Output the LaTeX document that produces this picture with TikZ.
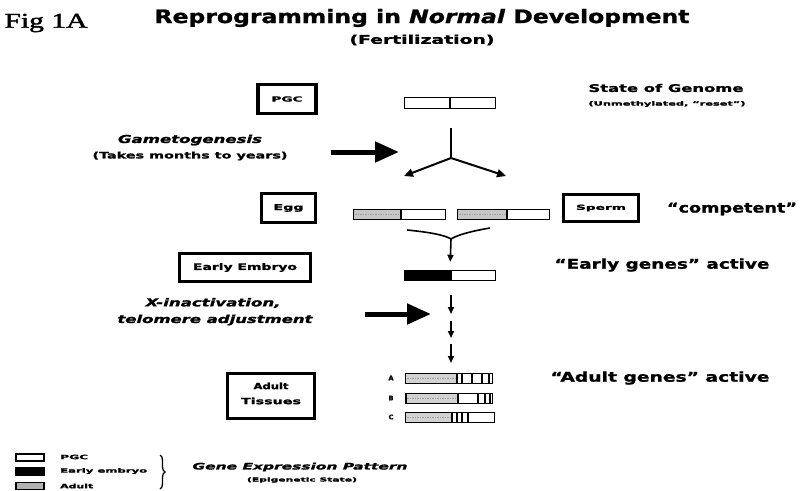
\documentclass[tikz,border=0pt]{standalone}
\usepackage{fontspec}
\setmainfont{DejaVu Sans}[ItalicFont={DejaVu Sans Oblique},BoldFont={DejaVu Sans Bold},BoldItalicFont={DejaVu Sans Bold Oblique},BoldFeatures={FakeBold=1.2},BoldItalicFeatures={FakeBold=1.2}]
\newfontfamily\figfont{Liberation Serif}[FakeBold=1.6]
\usepackage{graphicx}
\usetikzlibrary{arrows.meta,decorations.pathreplacing}
\newlength\fitlen
\newcommand\fitx[2]{\settowidth{\fitlen}{#2}\scalebox{\fpeval{#1/\fitlen}}[1]{#2}}
\newcommand\fs[1]{\fontsize{#1}{#1}\selectfont\bfseries}
\tikzset{
  txt/.style={inner sep=0pt, anchor=center},
  lbox/.style={draw, line width=3.5pt, inner sep=0pt},
  gbar/.style={draw, line width=1.4pt, inner sep=0pt, minimum height=10pt},
  swatch/.style={draw, line width=1.3pt, inner sep=0pt, minimum width=28pt, minimum height=7pt},
  bigarrow/.style={line width=5pt, -{Triangle[length=24pt,width=20pt]}},
  smallarrow/.style={line width=1.6pt, -{Triangle[length=7pt,width=6pt]}},
  forkarrow/.style={line width=2pt, -{Triangle[length=9pt,width=8pt]}},
  graypart/.style={fill=gray!45},
  texture/.style={gray!75, line width=0.8pt, dash pattern=on 1.5pt off 1pt}
}
\begin{document}
\begin{tikzpicture}[x=1pt,y=-1pt]
\useasboundingbox (0,0) rectangle (803,490);
\fill[white] (0,0) rectangle (803,490);

% ---------- headings ----------
\node[txt] (fig) at (46,23) {\fitx{83}{\figfont\fontsize{21}{21}\selectfont Fig 1A}};
\node[txt] (title) at (422,18) {\fitx{535}{\fs{18.5}Reprogramming in \textit{Normal} Development}};
\node[txt] (fert) at (422,40) {\fitx{145}{\fs{12}(Fertilization)}};

% ---------- genome state heading ----------
\node[txt] (state) at (666,88) {\fitx{155}{\fs{10.5}State of Genome}};
\node[txt] (unmeth) at (667,104) {\fitx{157}{\fs{6}(Unmethylated, “reset”)}};

% ---------- left boxes ----------
\node[lbox, minimum width=58pt, minimum height=29pt] (pgc) at (287,99) {\fitx{31}{\fs{7}PGC}};
\node[lbox, minimum width=54pt, minimum height=29pt] (egg) at (288.5,208) {\fitx{30}{\fs{8}Egg}};
\node[lbox, minimum width=75pt, minimum height=27pt] (sperm) at (601,208) {\fitx{50}{\fs{7}Sperm}};
\node[lbox, minimum width=131pt, minimum height=28pt] (early) at (245,267.5) {\fitx{104}{\fs{9}Early Embryo}};
\node[lbox, minimum width=87pt, minimum height=45pt] (adult) at (271,396) {};
\node[txt] (adultt1) at (271,386) {\fitx{35}{\fs{8.5}Adult}};
\node[txt] (adultt2) at (271,401) {\fitx{60}{\fs{8.5}Tissues}};

% ---------- left process texts ----------
\node[txt] (gam) at (190,140) {\fitx{144}{\fs{11}\itshape Gametogenesis}};
\node[txt] (takes) at (190,156) {\fitx{195}{\fs{9}(Takes months to years)}};
\node[txt] (xin) at (213,303) {\fitx{135}{\fs{11}\itshape X-inactivation,}};
\node[txt] (telo) at (215,320) {\fitx{195}{\fs{11}\itshape telomere adjustment}};

% ---------- right texts ----------
\node[txt] (comp) at (732,209) {\fitx{130}{\fs{13.5}“competent”}};
\node[txt] (egact) at (662,265) {\fitx{215}{\fs{13.5}“Early genes” active}};
\node[txt] (adact) at (660,378) {\fitx{219}{\fs{13.5}“Adult genes” active}};

% ---------- bar fills ----------
\fill[graypart] (354,210) rectangle (401,219);
\draw[texture] (355,214.5) -- (400,214.5);
\fill[graypart] (458,210) rectangle (507,219);
\draw[texture] (459,214.5) -- (506,214.5);
\fill[black] (405,271) rectangle (452,280);
\fill[gray!35] (406,374) rectangle (457,383);
\draw[texture] (407,378.5) -- (456,378.5);
\fill[gray!35] (406,394) rectangle (458,403);
\draw[texture] (407,398.5) -- (457,398.5);
\fill[gray!35] (406,413) rectangle (452,422);
\draw[texture] (407,417.5) -- (451,417.5);

% ---------- bars ----------
\node[gbar, minimum width=91pt, minimum height=11pt] (pgcbar) at (450,103) {};
\draw[line width=1.4pt] (pgcbar.north) -- (pgcbar.south);
\node[gbar, minimum width=92pt] (eggbar) at (399.5,214.5) {};
\draw[line width=1.4pt] (401,210) -- (401,219);
\node[gbar, minimum width=92pt] (spermbar) at (503.5,214.5) {};
\draw[line width=1.4pt] (507,210) -- (507,219);
\node[gbar, minimum width=91pt] (earlybar) at (450,275.5) {};
\node[gbar, minimum width=87pt] (barA) at (449,378.5) {};
\node[gbar, minimum width=87pt] (barB) at (449,398.5) {};
\node[gbar, minimum width=89pt] (barC) at (450,417.5) {};
% adult-state marks
\foreach \xx in {457,462,472,482,489} \draw[line width=1.8pt] (\xx,374) -- (\xx,383);
\foreach \xx in {458,478,485,490} \draw[line width=1.8pt] (\xx,394) -- (\xx,403);
\draw[line width=2.4pt] (406,394) -- (406,403);
\foreach \xx in {452,457,462,468} \draw[line width=1.8pt] (\xx,413) -- (\xx,422);

\node[txt] (labA) at (391,378) {\fs{6.5}A};
\node[txt] (labB) at (391,398) {\fs{6.5}B};
\node[txt] (labC) at (391,417) {\fs{6.5}C};

% ---------- connectors ----------
\coordinate (stemtop) at (451,128);
\coordinate (fork) at (451,158);
\coordinate (forkL) at (404,176);
\coordinate (forkR) at (506,176);
\draw[line width=2pt] (stemtop) -- (fork);
\draw[forkarrow] (fork) -- (forkL);
\draw[forkarrow] (fork) -- (forkR);

\coordinate (g1) at (331,152);
\coordinate (g2) at (399,152);
\draw[bigarrow] (g1) -- (g2);

\coordinate (mL) at (407,230);
\coordinate (mR) at (490,228);
\coordinate (mJ) at (451,239);
\draw[line width=1.6pt] (mL) .. controls (428,232) and (445,235) .. (mJ);
\draw[line width=1.6pt] (mR) .. controls (472,231) and (457,235) .. (mJ);
\draw[smallarrow, shorten >=8pt] (mJ) -- (earlybar.north);

\coordinate (a0) at (451,295);
\coordinate (a1) at (451,314);
\coordinate (a2) at (451,321);
\coordinate (a3) at (451,338);
\coordinate (a4) at (451,344);
\coordinate (a5) at (451,363);
\draw[smallarrow] (a0) -- (a1);
\draw[smallarrow] (a2) -- (a3);
\draw[smallarrow] (a4) -- (a5);

\coordinate (x1) at (365,314);
\coordinate (x2) at (431,314);
\draw[bigarrow] (x1) -- (x2);

% ---------- legend ----------
\node[swatch, fill=white] (lpgc) at (30,457.5) {};
\node[swatch, fill=black] (learly) at (30,471.5) {};
\node[swatch, fill=gray!60] (ladult) at (30,486) {};
\node[txt, anchor=west] (tpgc) at (60,457) {\fitx{28}{\fs{6}PGC}};
\node[txt, anchor=west] (tearly) at (60,471) {\fitx{87}{\fs{6}Early embryo}};
\node[txt, anchor=west] (tadult) at (60,486) {\fitx{33}{\fs{6}Adult}};
\draw[line width=1.3pt, decorate, decoration={brace, amplitude=5pt}] (160,455) -- (160,489);
\node[txt] (gep) at (300,467) {\fitx{215}{\fs{9}\itshape Gene Expression Pattern}};
\node[txt] (epi) at (302,480) {\fitx{110}{\fs{5.5}(Epigenetic State)}};
\end{tikzpicture}
\end{document}
